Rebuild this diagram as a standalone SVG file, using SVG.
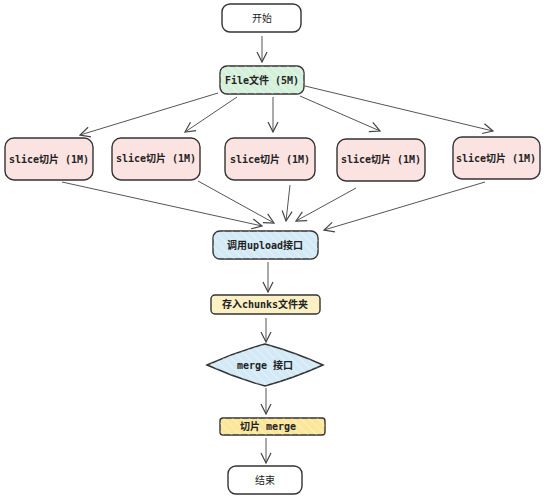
<svg xmlns="http://www.w3.org/2000/svg" width="546" height="500" viewBox="0 0 546 500">
<defs>
<marker id="ah" viewBox="0 0 12 12" refX="11" refY="6" markerWidth="12" markerHeight="12" markerUnits="userSpaceOnUse" orient="auto">
<path d="M1,1 L11,6 L1,11" fill="none" stroke="#444" stroke-width="1.2"/>
</marker>
<pattern id="hp" width="6" height="6" patternUnits="userSpaceOnUse" patternTransform="rotate(-45)">
<line x1="0" y1="0" x2="0" y2="6" stroke="#ffffff" stroke-opacity="0.35" stroke-width="2"/>
</pattern>
</defs>
<style>
.box{stroke:#333333;stroke-width:1.4}
.w{fill:#ffffff}
.g{fill:#d5f0da}
.p{fill:#fbe3e1}
.b{fill:#d3eaf6}
.y{fill:#fdf0c4}
.y2{fill:#fbe69a}
.t{font-family:"DejaVu Sans Mono","Liberation Mono","Noto Sans CJK SC",monospace;font-size:10px;fill:#222;text-anchor:middle;dominant-baseline:central}
.c{stroke:#555;stroke-width:1;fill:none;marker-end:url(#ah)}
</style>
<g id="connectors">
<path class="c" d="M262,36 L262,62"/>
<path class="c" d="M218,93 L80,135"/>
<path class="c" d="M237,97 L185,132"/>
<path class="c" d="M273,97 L273,132"/>
<path class="c" d="M300,96 L380,131"/>
<path class="c" d="M305,86 L493,131"/>
<path class="c" d="M62,182 L262,226"/>
<path class="c" d="M198,181 L274,223"/>
<path class="c" d="M290,185 L286,221"/>
<path class="c" d="M356,188 L296,221"/>
<path class="c" d="M485,182 L324,230"/>
<path class="c" d="M268,262 L268,292"/>
<path class="c" d="M266,318 L266,342"/>
<path class="c" d="M266,388 L266,414"/>
<path class="c" d="M266,438 L266,463"/>
</g>
<g id="start">
<rect class="box w" x="222" y="4" width="79" height="28" rx="8"/>
<text class="t" x="262" y="18">开始</text>
</g>
<g id="file">
<rect class="box g" x="220" y="66" width="84" height="28" rx="7"/>
<rect x="220" y="66" width="84" height="28" rx="7" fill="url(#hp)"/>
<text class="t" x="262" y="80" font-weight="bold">File文件 (5M)</text>
</g>
<g id="slice1">
<rect class="box p" x="5" y="138" width="88" height="42" rx="9"/>
<text class="t" x="49" y="159" font-weight="bold">slice切片 (1M)</text>
</g>
<g id="slice2">
<rect class="box p" x="112" y="138" width="88" height="42" rx="9"/>
<text class="t" x="156" y="158" font-weight="bold">slice切片 (1M)</text>
</g>
<g id="slice3">
<rect class="box p" x="225" y="138" width="90" height="42" rx="9"/>
<text class="t" x="270" y="159" font-weight="bold">slice切片 (1M)</text>
</g>
<g id="slice4">
<rect class="box p" x="337" y="139" width="88" height="42" rx="9"/>
<text class="t" x="381" y="159" font-weight="bold">slice切片 (1M)</text>
</g>
<g id="slice5">
<rect class="box p" x="453" y="137" width="87" height="42" rx="9"/>
<text class="t" x="496" y="158" font-weight="bold">slice切片 (1M)</text>
</g>
<g id="upload">
<rect class="box b" x="213" y="231" width="105" height="28" rx="7"/>
<rect x="213" y="231" width="105" height="28" rx="7" fill="url(#hp)"/>
<text class="t" x="265" y="245" font-weight="bold">调用upload接口</text>
</g>
<g id="chunks">
<rect class="box y" x="211" y="295" width="109" height="19" rx="4"/>
<text class="t" x="265" y="304.5" font-weight="bold">存入chunks文件夹</text>
</g>
<g id="merge">
<path class="box b" d="M207,365 Q236,352 265,344 Q294,352 323,365 Q294,378 265,386 Q236,378 207,365 Z"/>
<path d="M207,365 Q236,352 265,344 Q294,352 323,365 Q294,378 265,386 Q236,378 207,365 Z" fill="url(#hp)"/>
<text class="t" x="265" y="365" font-weight="bold">merge 接口</text>
</g>
<g id="slicemerge">
<rect class="box y2" x="220" y="418" width="105" height="17" rx="3"/>
<rect x="220" y="418" width="105" height="17" rx="3" fill="url(#hp)"/>
<text class="t" x="268" y="426.5" font-weight="bold">切片 merge</text>
</g>
<g id="end">
<rect class="box w" x="228" y="466" width="74" height="28" rx="8"/>
<text class="t" x="265" y="480">结束</text>
</g>
</svg>
